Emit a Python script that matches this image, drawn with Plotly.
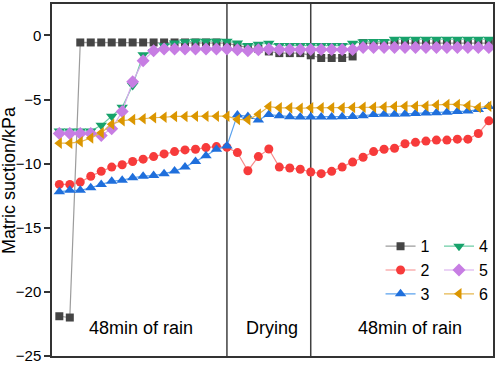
import plotly.graph_objects as go

# ---- data ----
time_index = list(range(42))

s1 = [-21.9, -22.0] + [-0.55] * 14 + [-0.6, -0.8, -0.95, -1.05, -1.25, -1.38, -1.38, -1.38,
      -1.55, -1.76, -1.76, -1.76, -1.64] + [-0.6] * 13
s2 = [-11.62, -11.62, -11.44, -10.98, -10.6, -10.27, -10.09, -9.83, -9.65, -9.45, -9.24, -9.06,
      -8.93, -8.88, -8.75, -8.67, -8.73, -9.14, -10.55, -9.45, -8.86, -10.27, -10.34, -10.44,
      -10.65, -10.78, -10.6, -10.27, -9.88, -9.5, -9.06, -8.88, -8.8, -8.45, -8.34, -8.24,
      -8.16, -8.16, -8.09, -8.09, -7.65, -6.66]
s3 = [-12.2, -12.08, -12.08, -11.88, -11.62, -11.37, -11.29, -11.1, -10.98, -10.93,
      -10.78, -10.58, -10.27, -9.83, -9.39, -8.88, -8.62, -6.2, -6.32, -6.6,
      -6.17, -6.26, -6.34, -6.36, -6.36, -6.36, -6.36, -6.34, -6.32, -6.26,
      -6.17, -6.14, -6.14, -6.12, -6.08, -6.05, -6.03, -5.99, -5.93, -5.9, -5.78, -5.55]
s4 = [-7.45, -7.45, -7.45, -7.45, -7.0, -6.3, -5.6, -3.9, -1.5, -1.25, -0.8, -0.6, -0.5,
      -0.45, -0.45, -0.45, -0.45, -0.6, -0.79, -0.69, -0.61] + [-0.79] * 7 + \
     [-0.61, -0.5, -0.48, -0.48] + [-0.3] * 10
s5 = [-7.65, -7.65, -7.65, -7.65, -7.8, -7.27, -5.93, -3.62, -1.97, -1.2] + [-1.05] * 7 + \
     [-1.12, -1.2, -1.12, -1.05, -1.1, -1.1, -1.1, -1.1, -1.1, -1.1, -1.1, -1.1] + [-0.95] * 13
s6 = [-8.4, -8.4, -8.3, -8.0, -7.6, -6.92, -6.65, -6.56, -6.5, -6.42,
      -6.38, -6.32, -6.32, -6.3, -6.3, -6.3, -6.3, -6.55, -6.58, -6.15,
      -5.55, -5.65, -5.65, -5.68, -5.65, -5.65, -5.65, -5.65, -5.62, -5.6,
      -5.6, -5.58, -5.55, -5.52, -5.52, -5.5, -5.42, -5.38, -5.38, -5.47, -5.62, -5.52]

series_names = ["1", "2", "3", "4", "5", "6"]
stage_labels = ["48min of rain", "Drying", "48min of rain"]
stage_pos = [7.8, 20.3, 33.5]
stage_bounds = [16, 24]
y_ticks = [0, -5, -10, -15, -20, -25]

series = [s1, s2, s3, s4, s5, s6]
marker_colors = ["#454545", "#F73B3B", "#1F6FDC", "#17A26B", "#C77DE3", "#DB9600"]
line_colors = ["#9C9C9C", "#F88A8A", "#5AA2EE", "#6CCDA5", "#D8A8EE", "#E6B74F"]
symbols = ["square", "circle", "triangle-up", "triangle-down", "diamond", "triangle-left"]
sizes = [8, 9, 10, 10, 10, 10]
legends = ["legend", "legend", "legend", "legend2", "legend2", "legend2"]

fig = go.Figure()
for name, ys, mc, lc, sym, sz, lg in zip(series_names, series, marker_colors, line_colors,
                                         symbols, sizes, legends):
    fig.add_trace(go.Scatter(
        x=time_index, y=ys, name=name, mode="lines+markers",
        line=dict(color=lc, width=1.2),
        marker=dict(color=mc, symbol=sym, size=sz, line=dict(width=0)),
        legend=lg,
    ))

for b in stage_bounds:
    fig.add_shape(type="line", xref="x", yref="paper", x0=b, x1=b, y0=0, y1=1,
                  line=dict(color="#404040", width=1.5), layer="below")

for lbl, xp in zip(stage_labels, stage_pos):
    fig.add_annotation(x=xp, y=-22.8, xref="x", yref="y", text=lbl, showarrow=False,
                       font=dict(size=18, color="#000"), xanchor="center", yanchor="middle")

fig.add_annotation(x=0, y=0.5, xref="paper", yref="paper", text="Matric suction/kPa",
                   textangle=-90, showarrow=False, xshift=-43, xanchor="center",
                   yanchor="middle", font=dict(size=18, color="#000"))

fig.update_layout(
    width=498, height=366,
    margin=dict(l=52, r=5, t=2, b=7),
    paper_bgcolor="white", plot_bgcolor="white",
    font=dict(family="Arial, Liberation Sans, sans-serif", color="#000"),
    showlegend=True,
    legend=dict(x=0.745, y=0.36, xanchor="left", yanchor="top", bgcolor="rgba(0,0,0,0)",
                font=dict(size=16), tracegroupgap=0),
    legend2=dict(x=1.0, y=0.36, xanchor="right", yanchor="top", bgcolor="rgba(0,0,0,0)",
                 font=dict(size=16), tracegroupgap=0),
    xaxis=dict(range=[-0.7, 41.4], showticklabels=False, ticks="", showgrid=False,
               zeroline=False, showline=True, mirror=True, linecolor="#333", linewidth=1.5),
    yaxis=dict(range=[-25, 2.45], tickvals=y_ticks, ticks="outside", ticklen=6,
               tickwidth=1.5, tickcolor="#333", tickfont=dict(size=15), showgrid=False,
               ticklabeloverflow="allow",
               zeroline=False, showline=True, mirror=True, linecolor="#333", linewidth=1.5),
)

fig.write_html("out.html", config={"displayModeBar": False},
               post_script="document.body.style.margin='0px';")
